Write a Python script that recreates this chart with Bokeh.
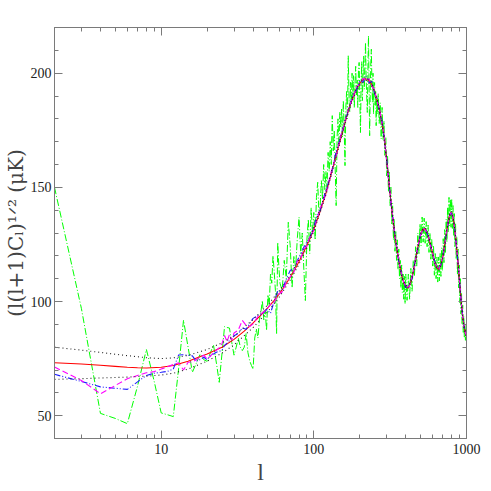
from bokeh.plotting import figure
from bokeh.models import (FixedTicker, LogAxis, LinearAxis, CustomJSTickFormatter)
from bokeh.embed import file_html
from bokeh.resources import INLINE

# ---------------- data ----------------
x_major = [10, 100, 1000]
x_minor = [2, 3, 4, 5, 6, 7, 8, 9, 20, 30, 40, 50, 60, 70, 80, 90,
           200, 300, 400, 500, 600, 700, 800, 900]
x_labels = {10: "10", 100: "100", 1000: "1000"}
y_major = [50, 100, 150, 200]
y_minor = [40, 60, 70, 80, 90, 110, 120, 130, 140, 160, 170, 180, 190, 210, 220]
y_labels = {50: "50", 100: "100", 150: "150", 200: "200"}
x_title = "l"
y_title = "(l(l+1)Cₗ)¹ᐟ² (μK)"

# best-fit model (red)
l_model = [2, 3, 4, 5, 6, 7, 8, 10, 12, 15, 20, 25, 30, 35, 40, 45, 50, 55, 60, 65,
           70, 75, 80, 85, 90, 95, 100, 110, 120, 130, 140, 150, 160, 170, 180, 190,
           200, 210, 220, 230, 240, 250, 260, 270, 280, 290, 300, 310, 320, 330, 340,
           350, 360, 370, 380, 390, 400, 410, 420, 430, 440, 450, 460, 470, 480, 490,
           500, 510, 520, 530, 540, 550, 560, 570, 580, 590, 600, 610, 620, 630, 640,
           650, 660, 670, 680, 690, 700, 710, 720, 730, 740, 750, 760, 770, 780, 790,
           800, 810, 820, 830, 840, 850, 860, 870, 880, 890, 900, 910, 920, 930, 940,
           950, 960, 970, 980, 990, 1000]
model = [73.2, 72.6, 72.1, 71.6, 71.2, 71.0, 70.9, 71.2, 72.0, 73.8, 77.0, 80.0, 83.4, 87.0, 90.6, 94.0, 97.3, 100.5, 103.8, 107.2,
         110.6, 114.0, 117.5, 121.0, 124.5, 128.0, 131.6, 139.5, 147.5, 155.8, 164.0, 171.5, 178.5, 184.5, 189.3, 193.0,
         195.6, 197.1, 197.5, 196.8, 195.0, 192.0, 188.0, 183.5, 178.0, 171.5, 162.0, 152.5, 143.5, 135.5, 128.5,
         122.8, 117.8, 113.6, 110.3, 107.8, 106.4, 106.0, 106.6, 108.2, 110.6, 113.6, 117.0, 120.5, 123.8, 126.8,
         129.2, 130.8, 131.6, 131.8, 131.4, 130.4, 128.9, 127.0, 125.0, 122.9, 120.8, 118.9, 117.2, 115.8, 114.8,
         114.3, 114.4, 115.0, 116.2, 117.8, 119.8, 122.2, 124.8, 127.5, 130.2, 132.8, 135.0, 136.9, 138.3, 139.0,
         138.8, 137.8, 136.0, 133.6, 130.8, 127.6, 124.2, 120.6, 116.8, 112.8, 108.8, 104.8, 101.0, 97.6, 94.6,
         92.0, 89.8, 88.0, 86.6, 85.5, 84.7]

# band edges (black dotted)
l_band = [2, 3, 4, 5, 6, 7, 8, 10, 12, 15, 20, 25, 30, 40, 50, 60, 70, 80, 90, 100,
          120, 140, 160, 180, 200, 220, 240, 260, 280, 300, 320, 340, 360, 380, 400,
          420, 440, 460, 480, 500, 520, 540, 560, 580, 600, 620, 640, 660, 680, 700,
          720, 740, 760, 780, 800, 820, 840, 860, 880, 900, 920, 940, 960, 980, 1000]
band_upper = [80.0, 78.7, 77.7, 76.9, 76.3, 75.8, 75.4, 75.0, 75.3, 76.4, 79.0, 81.9, 84.9, 92.1, 98.6, 105.0, 111.7, 118.5, 125.4, 132.4,
              148.3, 164.7, 179.2, 190.0, 196.3, 198.2, 195.7, 188.7, 178.7, 162.7, 144.2, 129.2, 118.5, 110.9, 107.0,
              107.2, 111.2, 117.6, 124.4, 129.8, 132.2, 132.0, 129.5, 125.6, 121.4, 117.8, 115.4, 115.0, 116.8, 120.4,
              125.4, 130.8, 135.6, 138.9, 139.4, 136.6, 131.4, 124.8, 117.4, 109.4, 101.6, 95.2, 90.4, 87.2, 85.3]
band_lower = [65.9, 66.2, 66.5, 66.7, 66.9, 67.1, 67.3, 67.8, 68.6, 70.4, 73.9, 77.4, 81.0, 88.6, 95.6, 102.4, 109.4, 116.4, 123.5, 130.7,
              146.7, 163.3, 177.8, 188.6, 194.9, 196.8, 194.3, 187.3, 177.3, 161.3, 142.8, 127.8, 117.1, 109.7, 105.8,
              106.0, 110.0, 116.4, 123.2, 128.6, 131.0, 130.8, 128.3, 124.4, 120.2, 116.6, 114.2, 113.8, 115.6, 119.2,
              124.2, 129.6, 134.4, 137.7, 138.2, 135.4, 130.2, 123.6, 116.2, 108.2, 100.4, 94.0, 89.2, 86.0, 84.1]

# two estimates (blue dash-dot, magenta dashed)
l_est = [2, 3, 4, 5, 6, 7, 8, 9, 10, 11, 12, 13, 14, 15, 16, 17, 18, 19, 20, 21, 22, 23, 24, 25, 26, 27, 28, 29, 30,
         32, 34, 36, 38, 40, 43, 46, 49, 52, 55, 58, 62, 66, 70, 74, 78, 82, 86, 90, 95, 100, 105, 110,
         120, 130, 140, 150, 160, 170, 180, 190, 200, 210, 220, 230, 240, 250, 260, 270, 280, 290, 300,
         320, 340, 360, 380, 400, 420, 440, 460, 480, 500, 520, 540, 560, 580, 600, 620, 640, 660, 680, 700,
         720, 740, 760, 780, 800, 820, 840, 860, 880, 900, 920, 940, 960, 980, 1000]
est_blue = [68.1, 65.0, 62.6, 62.0, 61.5, 64.8, 67.6, 68.6, 69.0, 69.4, 70.4, 76.6, 76.7, 76.4, 76.2, 73.8, 74.6, 75.6, 74.5, 76.4, 77.0, 77.8, 78.2, 78.6, 80.8, 81.8, 82.9, 83.7, 85.0,
            86.0, 88.5, 87.8, 90.4, 92.6, 93.9, 94.5, 96.5, 94.8, 100.2, 104.6, 105.0, 109.8, 113.6, 114.5, 118.0, 120.9, 123.8, 126.0, 128.5, 133.0, 137.6, 139.8,
            149.0, 155.5, 166.0, 172.0, 179.5, 184.0, 190.8, 192.5, 196.6, 196.0, 198.6, 195.8, 196.4, 191.0, 188.8, 182.7, 178.8, 170.8, 162.6,
            143.0, 129.0, 117.4, 110.6, 106.0, 107.0, 110.2, 117.4, 123.5, 129.6, 131.2, 131.8, 128.6, 125.3, 120.5, 117.5, 114.5, 114.7, 115.9, 120.1,
            124.5, 130.5, 134.7, 138.6, 138.5, 136.3, 130.5, 124.5, 116.5, 109.1, 100.7, 94.9, 89.6, 86.8, 84.5]
est_magenta = [71.3, 65.4, 59.6, 63.2, 66.2, 67.6, 68.8, 69.3, 70.4, 71.4, 72.4, 73.2, 70.0, 73.4, 73.5, 74.5, 75.8, 76.4, 74.9, 76.0, 77.8, 78.6, 79.8, 81.5, 85.1, 82.4, 85.6, 83.0, 86.2,
               87.5, 91.7, 89.5, 89.0, 90.2, 93.5, 95.0, 96.4, 98.8, 99.5, 103.0, 104.2, 108.4, 110.8, 113.0, 117.8, 118.6, 123.0, 124.2, 129.0, 131.0, 136.2, 140.8,
               147.0, 157.0, 163.5, 172.8, 178.0, 185.6, 189.0, 194.0, 195.0, 197.8, 196.5, 197.6, 194.2, 192.6, 187.4, 184.0, 177.5, 172.0, 161.5,
               144.0, 128.2, 118.2, 109.8, 106.8, 106.2, 111.0, 116.6, 124.2, 128.8, 132.2, 131.0, 129.4, 124.7, 121.3, 116.8, 115.2, 113.9, 116.6, 119.5,
               125.2, 129.8, 135.4, 138.1, 139.4, 135.7, 131.2, 123.8, 117.2, 108.5, 101.3, 94.3, 90.2, 86.4, 85.0]

# measured spectrum (green)
l_data = ([2, 3, 4, 5, 6, 7, 8, 9, 10, 11, 12, 13, 14, 15, 16, 17, 18, 19, 20, 21, 22, 23, 24, 25, 26, 27, 28, 29, 30,
           31, 32, 33, 34, 35, 36, 37, 38, 39, 40, 41, 42, 43, 44, 45, 46, 47, 48, 49, 50, 51, 52, 53, 54, 55, 56, 57, 58, 59, 60]
          + list(range(62, 262, 2)) + list(range(264, 404, 4)) + list(range(408, 1008, 8)))
data = [150.0, 97.0, 51.0, 48.8, 46.5, 63.0, 79.0, 65.0, 51.2, 50.4, 49.6, 70.5, 91.8, 80.0, 69.0, 73.0, 77.0, 74.5, 73.8, 77.5,
        81.0, 73.0, 64.6, 77.0, 89.0, 88.6, 88.4, 82.0, 76.5,
        80.0, 84.0, 80.0, 78.5, 80.0, 86.0, 77.6, 74.0, 72.0, 70.4, 84.0, 88.0, 84.0, 92.0, 95.5, 100.4, 92.0, 96.0, 87.3, 103.0,
        98.0, 112.0, 108.0, 120.0, 113.0, 104.8, 86.0, 125.9, 115.0, 108.0,
        # 62..260 step 2
        104.8, 118.0, 110.0, 134.7, 124.5, 106.0, 120.0, 115.0, 128.0, 136.9,
        121.0, 130.0, 114.0, 100.4, 126.7, 136.0, 121.0, 141.0, 130.0, 139.0,
        127.0, 145.6, 152.2, 138.0, 142.0, 152.9, 145.0, 160.0, 149.0, 157.0,
        150.0, 165.3, 157.0, 170.0, 160.0, 181.4, 166.0, 175.0, 158.0, 142.0,
        172.0, 180.0, 168.0, 183.0, 176.0, 184.3, 172.0, 188.0, 176.0, 159.5,
        185.0, 192.0, 180.0, 207.6, 190.0, 183.0, 196.0, 187.0, 200.0, 189.0,
        198.9, 185.0, 195.0, 203.0, 190.0, 197.0, 185.0, 201.0, 204.7, 190.0,
        174.0, 196.0, 205.0, 188.0, 200.0, 207.6, 193.0, 202.0, 213.4, 198.0,
        190.0, 182.8, 201.0, 216.4, 195.0, 172.6, 190.0, 204.0, 210.5, 196.0,
        187.2, 200.0, 182.0, 194.0, 195.9, 186.0, 192.0, 177.0, 189.0, 182.0,
        # 264..400 step 4
        191.0, 178.0, 187.0, 171.2, 185.0, 171.0, 179.0, 164.0, 172.0, 155.0,
        164.0, 148.0, 157.0, 142.0, 150.0, 134.0, 143.0, 127.0, 136.0, 122.0,
        131.0, 118.0, 127.0, 114.0, 123.0, 110.0, 118.0, 106.0, 116.0, 104.0,
        112.0, 101.0, 111.0, 99.0, 112.0,
        # 408..1000 step 8
        100.5, 112.0, 101.0, 114.5, 104.5, 118.0, 111.0, 124.0, 115.5, 130.0,
        121.0, 134.0, 124.5, 137.0, 126.0, 136.5, 125.5, 135.0, 124.0, 133.5,
        121.5, 130.0, 118.5, 127.5, 115.5, 124.5, 111.5, 121.0, 110.0, 119.5,
        108.5, 119.5, 109.0, 121.0, 111.0, 123.5, 113.5, 127.5, 117.0, 131.5,
        121.5, 136.0, 126.0, 141.0, 130.5, 145.6, 133.0, 144.5, 132.5, 145.0,
        132.0, 142.0, 129.0, 138.5, 124.0, 134.0, 118.5, 128.5, 112.0, 123.0,
        106.0, 116.0, 99.5, 110.0, 94.5, 103.5, 90.0, 98.5, 86.5, 93.5,
        84.0, 90.5, 83.0, 88.0, 85.0]

n = min(len(l_data), len(data))

# ---------------- figure ----------------
frame_col = "#7a7a7a"
p = figure(x_axis_type="log", x_range=(2, 1000), y_range=(40, 220),
           frame_width=412, frame_height=411,
           min_border_left=53, min_border_right=22, min_border_top=27, min_border_bottom=48,
           output_backend="svg", toolbar_location=None,
           background_fill_color="white", border_fill_color="white")
p.outline_line_color = frame_col
p.xgrid.visible = False
p.ygrid.visible = False

p.line(l_data[:n], data[:n], line_color="#00ff00", line_width=1, line_dash="7 2 1 2")
p.line(l_model, model, line_color="#ff0000", line_width=1.1)
p.line(l_est, est_blue, line_color="#2020ff", line_width=1.1, line_dash="6 2 1 2 1 2")
p.line(l_est, est_magenta, line_color="#ff00ff", line_width=1.1, line_dash="6 3")
p.line(l_band, band_upper, line_color="#222222", line_width=1.1, line_dash="1 3")
p.line(l_band, band_lower, line_color="#222222", line_width=1.1, line_dash="1 3")

def style_axis(ax):
    ax.axis_line_color = frame_col
    ax.major_tick_line_color = frame_col
    ax.minor_tick_line_color = frame_col
    ax.major_tick_in = 8
    ax.major_tick_out = 0
    ax.minor_tick_in = 4
    ax.minor_tick_out = 0
    ax.major_label_text_font = "Liberation Serif"
    ax.major_label_text_font_size = "14px"
    ax.major_label_text_color = "#222222"

xt = FixedTicker(ticks=x_major, minor_ticks=x_minor)
yt = FixedTicker(ticks=y_major, minor_ticks=y_minor)

xa = p.xaxis[0]
xa.ticker = xt
xa.major_label_overrides = x_labels
xa.axis_label = x_title
xa.axis_label_text_font = "Liberation Serif"
xa.axis_label_text_font_style = "normal"
xa.axis_label_text_font_size = "24px"
xa.axis_label_standoff = 2
xa.major_label_standoff = 5
style_axis(xa)

ya = p.yaxis[0]
ya.ticker = yt
ya.major_label_overrides = y_labels
ya.axis_label = y_title
ya.axis_label_text_font = "DejaVu Serif"
ya.axis_label_text_font_style = "normal"
ya.axis_label_text_font_size = "20px"
ya.axis_label_standoff = 0
ya.major_label_standoff = 3
style_axis(ya)

empty = CustomJSTickFormatter(code="return ''")
top = LogAxis(ticker=FixedTicker(ticks=x_major, minor_ticks=x_minor), formatter=empty)
style_axis(top)
top.major_label_standoff = 0
p.add_layout(top, "above")
right = LinearAxis(ticker=FixedTicker(ticks=y_major, minor_ticks=y_minor), formatter=empty)
style_axis(right)
right.major_label_standoff = 0
p.add_layout(right, "right")

open("out.html", "w").write(file_html(p, INLINE))
